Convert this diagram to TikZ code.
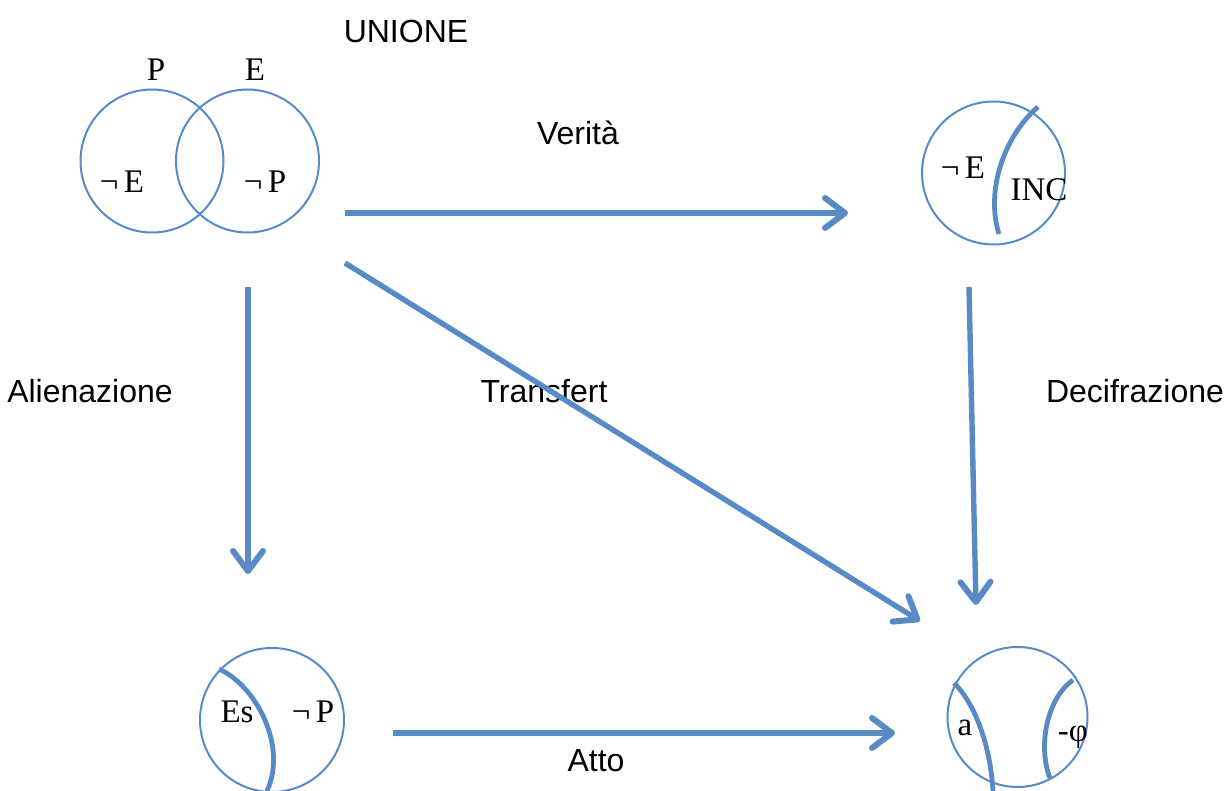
\documentclass[tikz,border=0pt]{standalone}
\usepackage{fontspec}
\setmainfont{Liberation Serif}
\newfontfamily\sansf{Liberation Sans}
\usetikzlibrary{arrows.meta}
\definecolor{lblue}{RGB}{88,139,198}
\begin{document}
\begin{tikzpicture}[x=0.5pt,y=-0.5pt,
  ring/.style={draw=lblue,line width=1pt},
  bar/.style={draw=lblue,line width=2.4pt},
  conn/.style={draw=lblue,line width=2.7pt,-{Straight Barb[length=10pt,width=15pt,round,line width=3pt]}},
  lab/.style={font=\sansf\fontsize{16}{18}\selectfont,inner sep=0pt},
  sym/.style={font=\fontsize{16.5}{18}\selectfont,inner sep=0pt}]
\useasboundingbox (0,0) rectangle (1232,791);
\clip (0,0) rectangle (1232,791);
% circles
\draw[ring] (152,161) circle[radius=71.5];
\draw[ring] (247.5,161) circle[radius=71.5];
\draw[ring] (993.5,173) circle[radius=71.5];
\draw[ring] (272,720) circle[radius=72];
\draw[ring] (1017.5,717) circle[radius=70];
% thick arcs
\draw[bar] (1038,107) .. controls (1005,135) and (985,190) .. (999,234);
\draw[bar] (219,669) .. controls (255,685) and (288,745) .. (267,791);
\draw[bar] (954,683) .. controls (972,700) and (990,740) .. (993,791);
\draw[bar] (1073,680) .. controls (1048,697) and (1037,745) .. (1050,778);
% symbol labels
\node[sym] (p) at (156,70) {P};
\node[sym] (e) at (255,70) {E};
\node[sym] (ne1) at (122,182) {¬\,E};
\node[sym] (np1) at (265,182) {¬\,P};
\node[sym] (ne2) at (963,168) {¬\,E};
\node[sym] (inc) at (1039,190) {INC};
\node[sym] (es) at (237,712) {Es};
\node[sym] (np2) at (313,712) {¬\,P};
\node[sym] (a) at (965,728) {a};
\node[sym] (phi) at (1073,737) {-φ};
% text labels
\node[lab] (unione) at (406,31) {UNIONE};
\node[lab] (verita) at (578,133) {Verità};
\node[lab] (alien) at (90,391) {Alienazione};
\node[lab] (transf) at (544,391) {Transfert};
\node[lab] (decif) at (1135,391) {Decifrazione};
\node[lab] (atto) at (596,761) {Atto};
% arrow endpoints
\coordinate (h1s) at (345,213); \coordinate (h1e) at (848,213);
\coordinate (v1s) at (248,287); \coordinate (v1e) at (248,574);
\coordinate (ds) at (345,263);  \coordinate (de) at (920,621);
\coordinate (v2s) at (969,287); \coordinate (v2e) at (976,605);
\coordinate (h2s) at (393,733); \coordinate (h2e) at (895,733);
\draw[conn] (h1s) -- (h1e);
\draw[conn] (v1s) -- (v1e);
\draw[conn] (ds) -- (de);
\draw[conn] (v2s) -- (v2e);
\draw[conn] (h2s) -- (h2e);
\end{tikzpicture}
\end{document}
